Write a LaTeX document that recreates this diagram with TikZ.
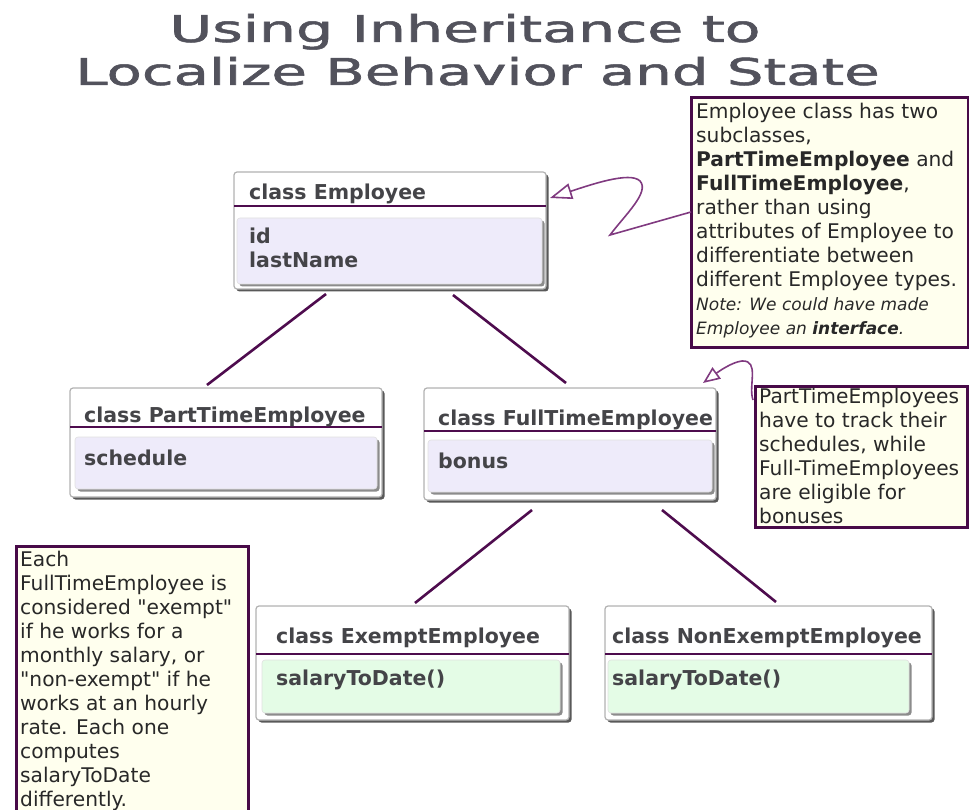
\documentclass[tikz,border=0pt]{standalone}
\usepackage{fontspec}
\setmainfont{DejaVu Sans}
\newfontfamily\titlefont[FakeBold=1.3]{DejaVu Sans}
\newfontfamily\notefont{DejaVu Sans}
\usetikzlibrary{calc,shadows,arrows.meta}
\definecolor{purp}{RGB}{78,12,78}
\definecolor{squig}{RGB}{128,58,128}
\definecolor{notebd}{RGB}{72,10,72}
\definecolor{ivory}{RGB}{255,255,238}
\definecolor{lav}{RGB}{238,235,250}
\definecolor{mint}{RGB}{228,252,230}
\definecolor{titlec}{RGB}{82,82,92}
\definecolor{hdrc}{RGB}{68,68,72}
\definecolor{txtc}{RGB}{40,40,40}
\begin{document}
\begin{tikzpicture}[x=1pt,y=-1pt,
  outerbox/.style={draw=black!30, fill=white, rounded corners=3pt, line width=1.2pt,
    inner sep=0pt, outer sep=0pt, anchor=north west,
    drop shadow={shadow xshift=2.5pt, shadow yshift=-2.5pt, fill=black!65, opacity=1}},
  innerbox/.style={draw=black!12, rounded corners=3pt, line width=0.6pt,
    inner sep=0pt, outer sep=0pt, anchor=north west,
    drop shadow={shadow xshift=2.5pt, shadow yshift=-2.5pt, fill=black!45, opacity=1}},
  sepline/.style={draw=purp, line width=2.4pt},
  conn/.style={draw=purp, line width=2.6pt},
  squiggle/.style={draw=squig, line width=1.6pt},
  hdr/.style={font=\fontsize{20.5}{24}\selectfont\bfseries, text=hdrc, anchor=base west, inner sep=0pt},
  attr/.style={font=\fontsize{20.5}{24}\selectfont\bfseries, text=hdrc, anchor=north west, inner sep=0pt, align=left},
  notebox/.style={draw=notebd, fill=ivory, line width=3pt, inner sep=0pt, outer sep=0pt, anchor=north west},
  notetxt/.style={font=\notefont\fontsize{20.2}{24}\selectfont, text=txtc, align=left, anchor=north west, inner sep=0pt},
  titletxt/.style={font=\titlefont\fontsize{37}{40}\selectfont, anchor=base, inner sep=0pt, text=titlec}
]
\useasboundingbox (0,0) rectangle (969,810);

% Title
\node[titletxt] (t1) at (465,42) {\scalebox{1.58}[1]{Using Inheritance to}};
\node[titletxt] (t2) at (477.5,85) {\scalebox{1.56}[1]{Localize Behavior and State}};

% class Employee
\node[outerbox, minimum width=312, minimum height=117] (emp) at (234,172) {};
\draw[sepline] ($(emp.north west)+(0,34)$) -- ($(emp.north east)+(0,34)$);
\node[innerbox, fill=lav, minimum width=305, minimum height=66] (empb) at (237,218) {};
\node[hdr] (empn) at (249,200) {class Employee};
\node[attr] (empa) at (249,228) {id\\lastName};

% class PartTimeEmployee
\node[outerbox, minimum width=312, minimum height=109] (pte) at (70,388) {};
\draw[sepline] ($(pte.north west)+(0,39)$) -- ($(pte.north east)+(0,39)$);
\node[innerbox, fill=lav, minimum width=302, minimum height=52] (pteb) at (75,437) {};
\node[hdr] (pten) at (84,422) {class PartTimeEmployee};
\node[hdr] (ptea) at (84,465) {schedule};

% class FullTimeEmployee
\node[outerbox, minimum width=292, minimum height=112] (fte) at (424,388) {};
\draw[sepline] ($(fte.north west)+(0,43)$) -- ($(fte.north east)+(0,43)$);
\node[innerbox, fill=lav, minimum width=284, minimum height=52] (fteb) at (428,440) {};
\node[hdr] (ften) at (438,425) {class FullTimeEmployee};
\node[hdr] (ftea) at (438,468) {bonus};

% class ExemptEmployee
\node[outerbox, minimum width=313, minimum height=114] (exe) at (256,606) {};
\draw[sepline] ($(exe.north west)+(0,48)$) -- ($(exe.north east)+(0,48)$);
\node[innerbox, fill=mint, minimum width=298, minimum height=53] (exeb) at (262,660) {};
\node[hdr] (exen) at (276,643) {class ExemptEmployee};
\node[hdr] (exea) at (276,685) {salaryToDate()};

% class NonExemptEmployee
\node[outerbox, minimum width=327, minimum height=114] (nex) at (605,606) {};
\draw[sepline] ($(nex.north west)+(0,48)$) -- ($(nex.north east)+(0,48)$);
\node[innerbox, fill=mint, minimum width=301, minimum height=53] (nexb) at (608,660) {};
\node[hdr] (nexn) at (612,643) {class NonExemptEmployee};
\node[hdr] (nexa) at (612,685) {salaryToDate()};

% connectors
\draw[conn] ($(emp.south west)+(92,5)$) -- ($(pte.north west)+(137,-3)$);
\draw[conn] ($(emp.south west)+(219,6)$) -- ($(fte.north west)+(142,-5)$);
\draw[conn] ($(fte.south west)+(108,10)$) -- ($(exe.north west)+(159,-3)$);
\draw[conn] ($(fte.south west)+(238,10)$) -- ($(nex.north west)+(171,-4)$);

% notes
\node[notebox, minimum width=277, minimum height=249] (n1) at (691,98) {};
\node[notetxt] (n1t) at (696,103) {Employee class has two\\subclasses,\\\textbf{PartTimeEmployee} and\\\textbf{FullTimeEmployee},\\rather than using\\attributes of Employee to\\differentiate between\\different Employee types.\\{\fontsize{17}{24}\selectfont\itshape Note: We could have made}\\{\fontsize{17}{24}\selectfont\itshape Employee an \textbf{interface}.}};

\node[notebox, minimum width=212, minimum height=141] (n2) at (755,386) {};
\node[notetxt] (n2t) at (759,388) {PartTimeEmployees\\have to track their\\schedules, while\\Full-TimeEmployees\\are eligible for\\bonuses};

\node[notebox, minimum width=232, minimum height=290] (n3) at (16,546) {};
\node[notetxt] (n3t) at (20,551) {Each\\FullTimeEmployee is\\considered "exempt"\\if he works for a\\monthly salary, or\\"non-exempt" if he\\works at an hourly\\rate. Each one\\computes\\salaryToDate\\differently.};

% squiggle arrows
\draw[squiggle, -{Triangle[open, length=22pt, width=16pt]}]
  ($(n1.north west)+(0,114)$) -- (610,235)
  .. controls (625,215) and (650,192) .. (640,181)
  .. controls (630,171) and (590,185) .. ($(emp.north east)+(4,26)$);
\draw[squiggle, -{Triangle[open, length=17pt, width=14pt]}]
  ($(n2.north west)+(-2,14)$)
  .. controls (748,386) and (760,360) .. (742,361)
  .. controls (732,362) and (718,372) .. ($(fte.north east)+(-13,-5)$);
\end{tikzpicture}
\end{document}
